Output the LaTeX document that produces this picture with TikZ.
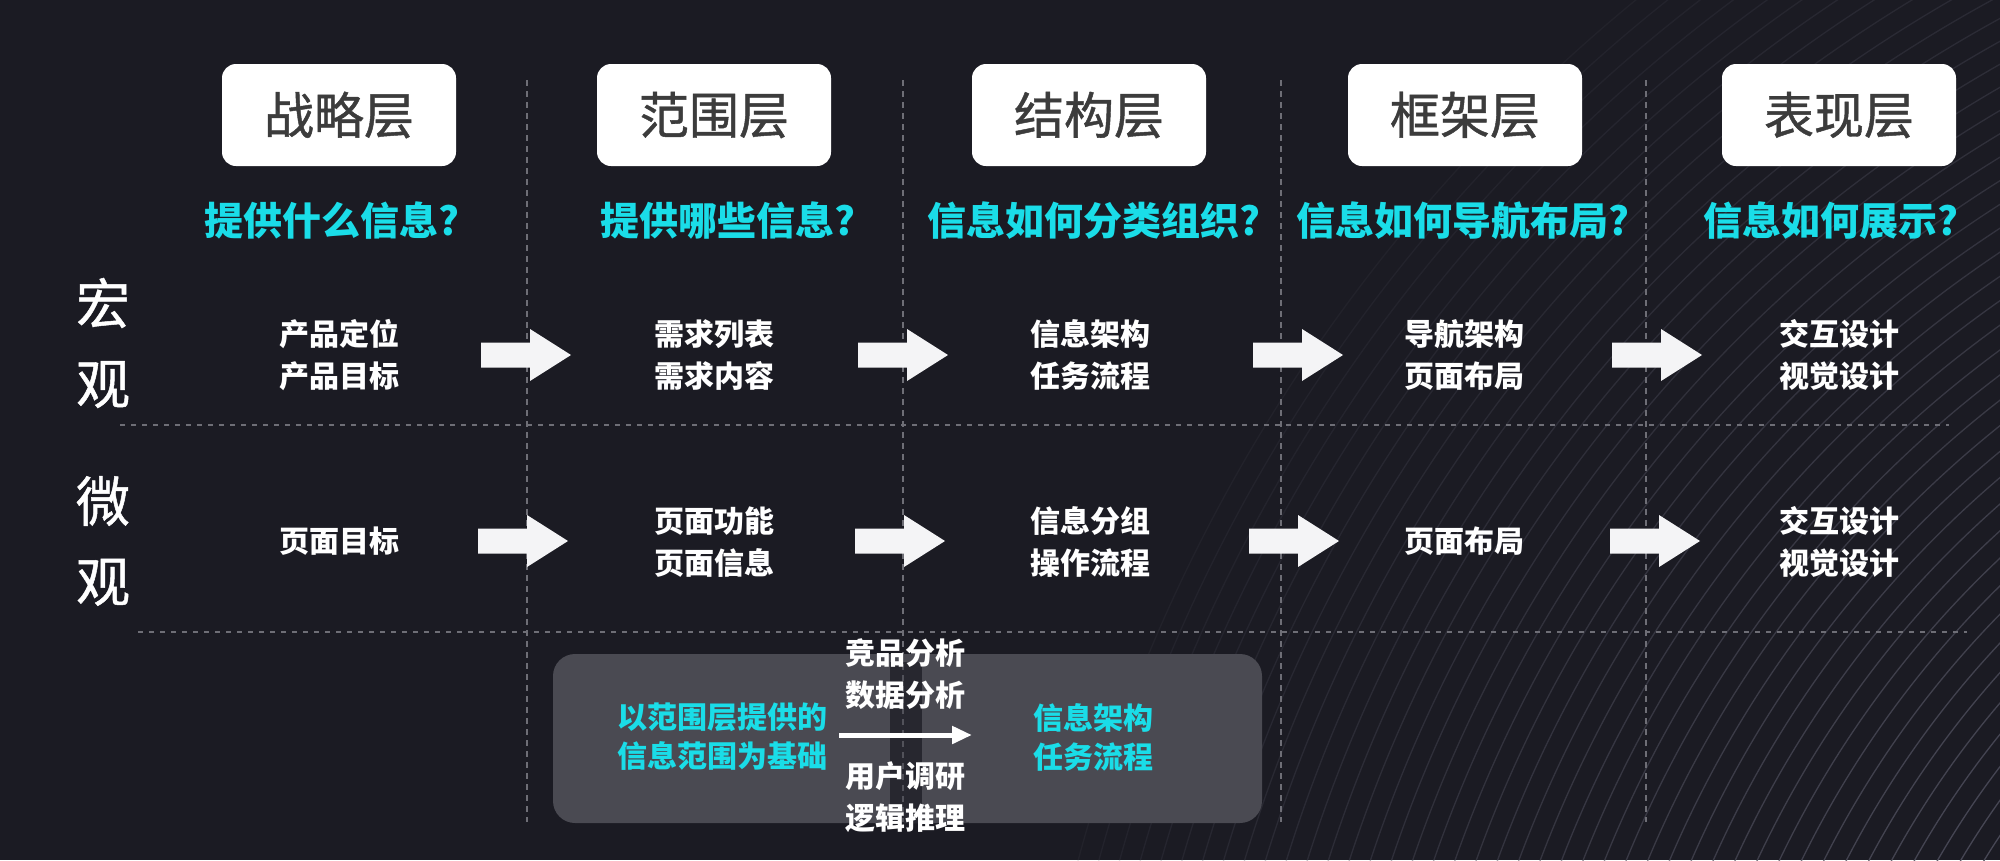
\documentclass[tikz,border=0pt]{standalone}
\usepackage{fontspec}
\newfontfamily\cjk{Noto Sans CJK SC}
\newfontfamily\cjkm[FakeBold=0.9]{Noto Sans CJK SC}
\usetikzlibrary{arrows.meta}
\definecolor{bg}{HTML}{1B1B23}
\definecolor{cyanc}{HTML}{1ADDE8}
\definecolor{hdrtext}{HTML}{3C3C3C}
\definecolor{boxgray}{HTML}{4A4A52}
\definecolor{bandgray}{HTML}{27272F}
\definecolor{dashgray}{HTML}{6E6E76}
\definecolor{arcgray}{HTML}{4C4C5A}
\definecolor{arrowfill}{HTML}{F4F4F6}
\begin{document}
\begin{tikzpicture}[x=1pt,y=-1pt,
  hdr/.style={fill=white, rounded corners=14pt, minimum width=234pt, minimum height=102pt,
    inner sep=0pt, text=hdrtext, font=\cjkm\fontsize{50}{50}\selectfont},
  quest/.style={text=cyanc, inner sep=0pt, font=\cjk\bfseries\fontsize{39}{39}\selectfont},
  item/.style={text=white, align=center, inner sep=0pt, font=\cjk\bfseries\fontsize{30}{42}\selectfont},
  side/.style={text=white, align=center, inner sep=0pt, font=\cjkm\fontsize{54}{80}\selectfont},
  boxtxt/.style={text=cyanc, align=center, inner sep=0pt, font=\cjk\bfseries\fontsize{30}{39}\selectfont},
  boxlbl/.style={text=white, align=center, inner sep=0pt, font=\cjk\bfseries\fontsize{30}{42}\selectfont},
  vline/.style={draw=dashgray, line width=1.6pt, dash pattern=on 6pt off 5pt},
  hline/.style={draw=dashgray, line width=1.8pt, dash pattern=on 5pt off 6pt},
  blkarrow/.pic={\fill[arrowfill] (-45,-12.5) -- (4,-12.5) -- (4,-26) -- (45,0) -- (4,26) -- (4,12.5) -- (-45,12.5) -- cycle;}
]
\useasboundingbox (0,0) rectangle (2000,860);
\fill[bg] (0,0) rectangle (2000,860);

% decorative arcs
\begin{scope}
  \clip (0,0) rectangle (2000,860);
  \foreach \r in {740,760,...,1680} {
    \pgfmathsetmacro\op{max(0.12,1-(\r-740)/1100)}
    \draw[arcgray, line width=1.3pt, opacity=\op] (2700,1300) circle[radius=\r];
  }
\end{scope}

% dashed grid lines
\foreach \x in {527,903,1281,1646} {
  \coordinate (vt\x) at (\x,80);
  \coordinate (vb\x) at (\x,822);
  \draw[vline] (vt\x) -- (vb\x);
}
\coordinate (h1a) at (120,425); \coordinate (h1b) at (1949,425);
\coordinate (h2a) at (138,632); \coordinate (h2b) at (1967,632);
\draw[hline] (h1a) -- (h1b);
\draw[hline] (h2a) -- (h2b);

% header boxes
\node[hdr] (h1) at (339,115) {战略层};
\node[hdr] (h2) at (714,115) {范围层};
\node[hdr] (h3) at (1089,115) {结构层};
\node[hdr] (h4) at (1465,115) {框架层};
\node[hdr] (h5) at (1839,115) {表现层};

% questions
\node[quest] (q1) at (332,221) {提供什么信息?};
\node[quest] (q2) at (728,221) {提供哪些信息?};
\node[quest] (q3) at (1094,221) {信息如何分类组织?};
\node[quest] (q4) at (1463,221) {信息如何导航布局?};
\node[quest] (q5) at (1831,221) {信息如何展示?};

% side labels
\node[side] (macro) at (103,343) {宏\\观};
\node[side] (micro) at (103,541) {微\\观};

% macro row
\node[item] (m1) at (339,355) {产品定位\\产品目标};
\node[item] (m2) at (714,355) {需求列表\\需求内容};
\node[item] (m3) at (1090,355) {信息架构\\任务流程};
\node[item] (m4) at (1464,355) {导航架构\\页面布局};
\node[item] (m5) at (1839,355) {交互设计\\视觉设计};

% micro row
\node[item] (u1) at (339,541) {页面目标};
\node[item] (u2) at (714,542) {页面功能\\页面信息};
\node[item] (u3) at (1090,542) {信息分组\\操作流程};
\node[item] (u4) at (1464,541) {页面布局};
\node[item] (u5) at (1839,542) {交互设计\\视觉设计};

% block arrows
\pic at (526,355) {blkarrow};
\pic at (903,355) {blkarrow};
\pic at (1298,355) {blkarrow};
\pic at (1657,355) {blkarrow};
\pic at (523,541) {blkarrow};
\pic at (900,541) {blkarrow};
\pic at (1294,541) {blkarrow};
\pic at (1655,541) {blkarrow};

% bottom box
\node[fill=boxgray, rounded corners=22pt, minimum width=709pt, minimum height=169pt, inner sep=0pt] (bx) at (907.5,738.5) {};
\fill[bandgray] (890,662) rectangle (922,823);
\draw[draw=dashgray!60!bandgray, line width=1.4pt, dash pattern=on 6pt off 5pt] (903,664) -- (903,822);

\node[boxtxt] (bl) at (722,737) {以范围层提供的\\信息范围为基础};
\node[boxtxt] (br) at (1093,737) {信息架构\\任务流程};
\node[boxlbl] (lt) at (905,674) {竞品分析\\数据分析};
\node[boxlbl] (lb) at (905,797) {用户调研\\逻辑推理};
\coordinate (as) at (839,735);
\coordinate (ae) at (972,735);
\draw[white, line width=5pt, -{Triangle[length=20pt,width=17pt]}] (as) -- (ae);
\end{tikzpicture}
\end{document}
